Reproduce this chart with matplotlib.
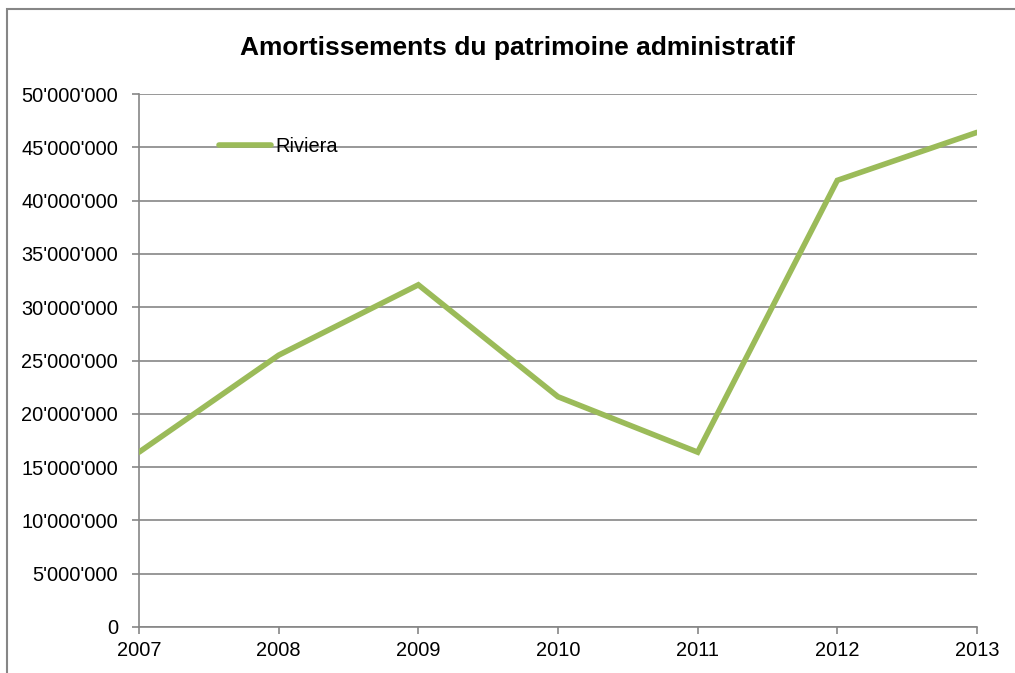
import matplotlib
matplotlib.use('Agg')
import matplotlib.pyplot as plt
from matplotlib.patches import Rectangle
from matplotlib.ticker import FuncFormatter

# Donnees
annees = [2007, 2008, 2009, 2010, 2011, 2012, 2013]
riviera = [16.4e6, 25.5e6, 32.1e6, 21.6e6, 16.4e6, 41.9e6, 46.4e6]
yticks = list(range(0, 50000001, 5000000))

plt.rcParams['font.family'] = ['Liberation Sans', 'DejaVu Sans']

fig = plt.figure(figsize=(10.15, 6.73), dpi=100)
ax = fig.add_axes([139/1015, 46/673, (977-139)/1015, (627-94)/673])

# cadre exterieur
fig.patches.append(Rectangle((7/1015, -0.2), 1.5, (673-9)/673 + 0.2, transform=fig.transFigure,
                             fill=False, edgecolor='#868686', linewidth=1.5))

ax.plot(annees, riviera, color='#9BBB59', linewidth=4, solid_capstyle='round',
        solid_joinstyle='miter', label='Riviera', zorder=3)

ax.set_xlim(2007, 2013)
ax.set_ylim(0, 50000000)
ax.set_xticks(annees)
ax.set_yticks(yticks)
ax.yaxis.set_major_formatter(FuncFormatter(lambda v, p: f"{int(v):,}".replace(',', "'")))
ax.grid(axis='y', color='#868686', linewidth=1.2)
ax.set_axisbelow(True)

for s in ['top', 'right']:
    ax.spines[s].set_visible(False)
for s in ['left', 'bottom']:
    ax.spines[s].set_color('#868686')
    ax.spines[s].set_linewidth(1.2)
ax.tick_params(axis='both', colors='#868686', labelcolor='black', labelsize=14.4, length=5, width=1.2)
ax.tick_params(axis='y', pad=10)
ax.tick_params(axis='x', pad=5)

ax.legend(loc='upper left', bbox_to_anchor=(72/838, 0.935), frameon=False, fontsize=14.4,
          handlelength=2.6, handletextpad=0.2, borderaxespad=0)

fig.text(517/1015, 1 - 48/673, 'Amortissements du patrimoine administratif',
         ha='center', va='center', fontsize=19, fontweight='bold')

fig.savefig('out.png', dpi=100)
